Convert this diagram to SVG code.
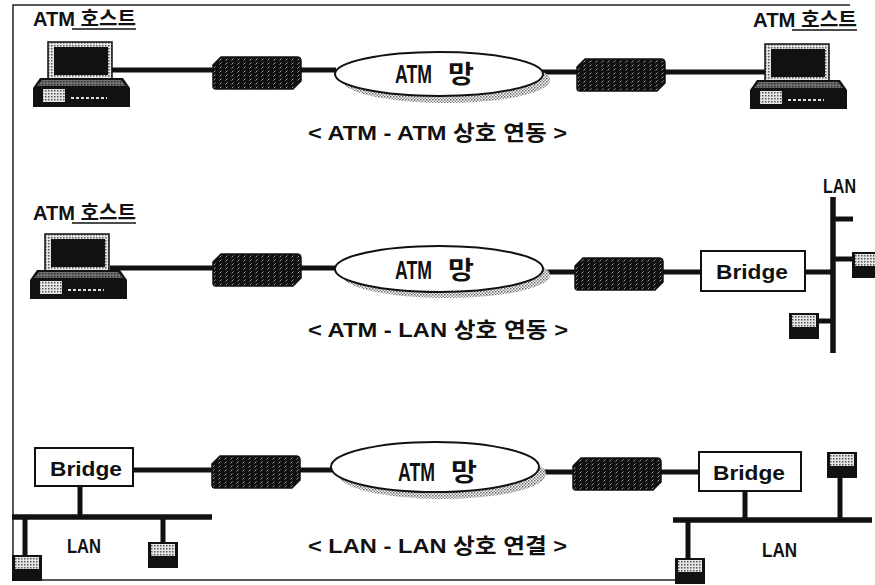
<svg xmlns="http://www.w3.org/2000/svg" width="875" height="585" viewBox="0 0 875 585">
  <style>
    .t { font-family: "Liberation Sans", "Noto Sans CJK KR", sans-serif; font-weight: bold; fill: #111; }
    .cap { font-size: 21px; }
    .lbl { font-size: 20px; }
    .lan { font-size: 21px; }
    .br { font-size: 21px; }
    .net { font-size: 25px; }
    .wire { stroke: #111; stroke-width: 5; fill: none; }
    .bus { stroke: #111; stroke-width: 5.5; fill: none; stroke-linecap: butt; }
    .frame { stroke: #222; stroke-width: 1.5; fill: none; }
    .cloud { fill: #fff; stroke: #111; stroke-width: 2; }
    .shade { fill: url(#dots); }
    .box { fill: #fff; stroke: #111; stroke-width: 2; }
  </style>
  <defs>
    <pattern id="dots" width="3" height="3" patternUnits="userSpaceOnUse">
      <rect width="3" height="3" fill="#fff"/>
      <rect width="1.5" height="1.5" fill="#666"/>
      <rect x="1.5" y="1.5" width="1.5" height="1.5" fill="#888"/>
    </pattern>
    <pattern id="dotsLight" width="3" height="3" patternUnits="userSpaceOnUse">
      <rect width="3" height="3" fill="#e6e6e6"/>
      <rect width="1.5" height="1.5" fill="#555"/>
    </pattern>
    <pattern id="hatch" width="6" height="4" patternUnits="userSpaceOnUse">
      <rect width="6" height="4" fill="#111"/>
      <line x1="0.5" y1="3.5" x2="2.5" y2="1.5" stroke="#aaa" stroke-width="0.9"/>
    </pattern>
    <!-- workstation: monitor on a desktop base, origin at base top-left -->
    <g id="pc">
      <rect x="15" y="-36" width="64" height="38" fill="url(#dotsLight)" stroke="#111" stroke-width="1.5"/>
      <rect x="21" y="-31" width="54" height="28" fill="#111"/>
      <path d="M7,0 L90,0 L97,10 L97,29 L0,29 L0,10 Z" fill="#111"/>
      <path d="M9,2 L88,2 L93,8 L4,8 Z" fill="url(#dotsLight)" opacity="0.45"/>
      <rect x="10" y="11" width="22" height="13" fill="url(#dotsLight)"/>
      <line x1="38" y1="20" x2="74" y2="20" stroke="#ddd" stroke-width="2" stroke-dasharray="3 2"/>
    </g>
    <!-- interface unit: chamfered hatched box -->
    <path id="unit" d="M0,8 L8,0 L84,0 Q88,0 88,4 L88,24 L80,32 L3,32 Q0,32 0,29 Z" fill="url(#hatch)" stroke="#111" stroke-width="1.5"/>
    <!-- LAN station -->
    <g id="station">
      <rect x="0" y="0" width="30" height="26" fill="#111"/>
      <rect x="3" y="2" width="24" height="12" fill="url(#dotsLight)"/>
    </g>
  </defs>

  <!-- outer frame -->
  <path class="frame" d="M13,580 L13,5 L850,5"/>
  <path class="frame" d="M13,580 L700,580"/>

  <!-- connectors -->
  <g id="connectors">
    <!-- ATM - ATM -->
    <line class="wire" x1="110" y1="70" x2="214" y2="70"/>
    <line class="wire" x1="300" y1="70" x2="336" y2="70"/>
    <line class="wire" x1="540" y1="72" x2="578" y2="72"/>
    <line class="wire" x1="664" y1="72" x2="766" y2="72"/>
    <!-- ATM - LAN -->
    <line class="wire" x1="110" y1="268" x2="214" y2="268"/>
    <line class="wire" x1="300" y1="268" x2="336" y2="268"/>
    <line class="wire" x1="540" y1="272" x2="576" y2="272"/>
    <line class="wire" x1="662" y1="272" x2="701" y2="272"/>
    <line class="wire" x1="805" y1="272" x2="833" y2="272"/>
    <line class="bus" x1="833" y1="197" x2="833" y2="353"/>
    <line class="wire" x1="833" y1="219" x2="853" y2="219"/>
    <line class="wire" x1="833" y1="259" x2="853" y2="259"/>
    <line class="wire" x1="818" y1="321" x2="833" y2="321"/>
    <!-- LAN - LAN -->
    <line class="wire" x1="133" y1="470" x2="213" y2="470"/>
    <line class="wire" x1="297" y1="470" x2="332" y2="470"/>
    <line class="wire" x1="538" y1="472" x2="574" y2="472"/>
    <line class="wire" x1="660" y1="472" x2="699" y2="472"/>
    <line class="wire" x1="80" y1="486" x2="80" y2="517"/>
    <line class="bus" x1="12" y1="517" x2="212" y2="517"/>
    <line class="wire" x1="25" y1="517" x2="25" y2="556"/>
    <line class="wire" x1="163" y1="517" x2="163" y2="543"/>
    <line class="wire" x1="745" y1="491" x2="745" y2="520"/>
    <line class="bus" x1="673" y1="520" x2="872" y2="520"/>
    <line class="wire" x1="688" y1="520" x2="688" y2="559"/>
    <line class="wire" x1="840" y1="477" x2="840" y2="520"/>
  </g>

  <!-- ATM - ATM interworking -->
  <g id="host-a1">
    <use href="#pc" x="33" y="78"/>
    <text class="t lbl" x="33" y="26" textLength="103" lengthAdjust="spacingAndGlyphs">ATM 호스트</text>
    <line x1="72" y1="29" x2="136" y2="29" stroke="#111" stroke-width="1.5"/>
  </g>
  <g id="unit-a1"><use href="#unit" x="213" y="57"/></g>
  <g id="net-a">
    <ellipse class="shade" cx="446" cy="80" rx="104" ry="23"/>
    <ellipse class="cloud" cx="439" cy="74" rx="104" ry="22"/>
    <text class="t net" x="395" y="83" textLength="37" lengthAdjust="spacingAndGlyphs">ATM</text>
    <text class="t net" x="448" y="83" textLength="26" lengthAdjust="spacingAndGlyphs">망</text>
  </g>
  <g id="unit-a2"><use href="#unit" x="577" y="59"/></g>
  <g id="host-a2">
    <use href="#pc" x="750" y="80"/>
    <text class="t lbl" x="753" y="27" textLength="104" lengthAdjust="spacingAndGlyphs">ATM 호스트</text>
    <line x1="792" y1="30" x2="857" y2="30" stroke="#111" stroke-width="1.5"/>
  </g>
  <text id="cap-a" class="t cap" x="308" y="140" textLength="259" lengthAdjust="spacingAndGlyphs">&lt; ATM - ATM 상호 연동 &gt;</text>

  <!-- ATM - LAN interworking -->
  <g id="host-b1">
    <use href="#pc" x="30" y="270"/>
    <text class="t lbl" x="33" y="220" textLength="103" lengthAdjust="spacingAndGlyphs">ATM 호스트</text>
    <line x1="72" y1="223" x2="136" y2="223" stroke="#111" stroke-width="1.5"/>
  </g>
  <g id="unit-b1"><use href="#unit" x="213" y="254"/></g>
  <g id="net-b">
    <ellipse class="shade" cx="446" cy="275" rx="104" ry="23"/>
    <ellipse class="cloud" cx="439" cy="269" rx="104" ry="23"/>
    <text class="t net" x="395" y="279" textLength="37" lengthAdjust="spacingAndGlyphs">ATM</text>
    <text class="t net" x="448" y="279" textLength="26" lengthAdjust="spacingAndGlyphs">망</text>
  </g>
  <g id="unit-b2"><use href="#unit" x="575" y="258"/></g>
  <g id="bridge-b">
    <rect class="box" x="701" y="251" width="104" height="40"/>
    <text class="t br" x="716" y="279" textLength="72" lengthAdjust="spacingAndGlyphs">Bridge</text>
  </g>
  <g id="lan-b">
    <text class="t lan" x="823" y="193" textLength="33" lengthAdjust="spacingAndGlyphs">LAN</text>
    <use href="#station" x="852" y="252"/>
    <use href="#station" x="789" y="313"/>
  </g>
  <text id="cap-b" class="t cap" x="308" y="337" textLength="260" lengthAdjust="spacingAndGlyphs">&lt; ATM - LAN 상호 연동 &gt;</text>

  <!-- LAN - LAN interconnection -->
  <g id="bridge-c1">
    <rect class="box" x="35" y="448" width="98" height="38"/>
    <text class="t br" x="50" y="476" textLength="72" lengthAdjust="spacingAndGlyphs">Bridge</text>
  </g>
  <g id="lan-c1">
    <use href="#station" x="12" y="555"/>
    <use href="#station" x="148" y="542"/>
    <text class="t lan" x="67" y="553" textLength="34" lengthAdjust="spacingAndGlyphs">LAN</text>
  </g>
  <g id="unit-c1"><use href="#unit" x="212" y="456"/></g>
  <g id="net-c">
    <ellipse class="shade" cx="442" cy="474" rx="104" ry="25"/>
    <ellipse class="cloud" cx="435" cy="467" rx="104" ry="25"/>
    <text class="t net" x="398" y="481" textLength="37" lengthAdjust="spacingAndGlyphs">ATM</text>
    <text class="t net" x="451" y="481" textLength="26" lengthAdjust="spacingAndGlyphs">망</text>
  </g>
  <g id="unit-c2"><use href="#unit" x="573" y="458"/></g>
  <g id="bridge-c2">
    <rect class="box" x="699" y="452" width="102" height="39"/>
    <text class="t br" x="713" y="480" textLength="72" lengthAdjust="spacingAndGlyphs">Bridge</text>
  </g>
  <g id="lan-c2">
    <use href="#station" x="827" y="452"/>
    <use href="#station" x="675" y="558"/>
    <text class="t lan" x="762" y="557" textLength="35" lengthAdjust="spacingAndGlyphs">LAN</text>
  </g>
  <text id="cap-c" class="t cap" x="308" y="553" textLength="259" lengthAdjust="spacingAndGlyphs">&lt; LAN - LAN 상호 연결 &gt;</text>
</svg>
